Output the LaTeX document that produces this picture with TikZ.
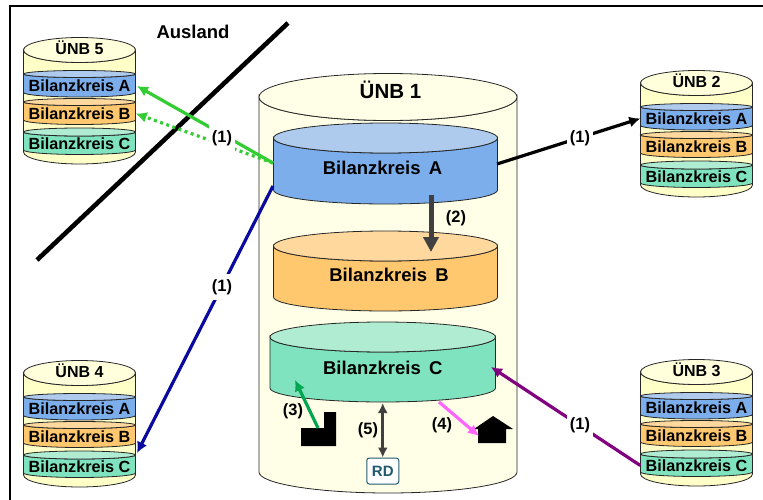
\documentclass[tikz,border=0pt]{standalone}
\usepackage{fontspec}
\setmainfont{Liberation Sans}
\usetikzlibrary{arrows.meta}

\definecolor{bkAside}{HTML}{7CAEEC}
\definecolor{bkAtop}{HTML}{AECBEE}
\definecolor{bkBside}{HTML}{FFC76E}
\definecolor{bkBtop}{HTML}{FFD89E}
\definecolor{bkCside}{HTML}{7FE3BF}
\definecolor{bkCtop}{HTML}{B0ECD2}
\definecolor{unbbig}{HTML}{FFFFE8}
\definecolor{unbsmall}{HTML}{FFFFC8}
\definecolor{unbtop}{HTML}{FFFFDC}
\definecolor{darkarrow}{HTML}{404040}
\definecolor{rdtext}{HTML}{1F5A6E}
\definecolor{greenline}{HTML}{33CC33}
\definecolor{greenthree}{HTML}{00A651}
\definecolor{blueline}{HTML}{0A0A9E}
\definecolor{purpleline}{HTML}{800080}
\definecolor{pinkline}{HTML}{FF66FF}

\tikzset{
  drumline/.style={draw=black!85,line width=0.8pt},
  biglabel/.style={font=\fontsize{18.5}{20}\selectfont\bfseries,inner sep=0pt,minimum height=20pt},
  smalllabel/.style={font=\fontsize{16.2}{18}\selectfont\bfseries,inner sep=0pt,minimum height=18pt,minimum width=112pt},
  numlabel/.style={font=\fontsize{16.4}{18}\selectfont\bfseries,inner sep=1.5pt},
  whitelabel/.style={numlabel,fill=white,inner xsep=3pt,inner ysep=5pt},
  flow/.style={line width=3.2pt,-{Latex[length=11pt,width=11pt]}}
}

% cx, rx, top, bottom, ry top, ry bottom, side colour, top colour
\newcommand{\drum}[8]{
  \fill [#7,drumline] (#1-#2,#3) -- (#1-#2,#4) arc (180:0:#2 and #6) -- (#1+#2,#3) arc (0:180:#2 and #5) -- cycle;
  \draw [fill=#8,drumline] (#1,#3) ellipse (#2 and #5);
}

% shift x, shift y, name, number
\newcommand{\unbstack}[4]{
  \begin{scope}[shift={(#1,#2)}]
  \drum{79.5}{56}{50}{152}{12.5}{12}{unbsmall}{unbtop}
  \drum{79.5}{56}{74}{92.5}{3.5}{4.5}{bkAside}{bkAtop}
  \drum{79.5}{56}{102}{120}{3.5}{4.5}{bkBside}{bkBtop}
  \drum{79.5}{56}{132}{150}{4}{4.5}{bkCside}{bkCtop}
  \node [font=\fontsize{16}{18}\selectfont\bfseries,inner sep=0pt] (#3) at (79.5,48) {ÜNB #4};
  \node [smalllabel] (#3A) at (79.5,85.5) {Bilanzkreis A};
  \node [smalllabel] (#3B) at (79.5,113.5) {Bilanzkreis B};
  \node [smalllabel] (#3C) at (79.5,143.5) {Bilanzkreis C};
  \end{scope}
}

\begin{document}
\begin{tikzpicture}[x=1pt,y=-1pt]
\useasboundingbox (0,0) rectangle (763,500);

\draw [line width=2.6pt] (10,500) -- (10,6) -- (763,6);
\draw [line width=4.6pt] (37,260) -- (288,23);
\node [font=\fontsize{18.5}{20}\selectfont\bfseries,inner sep=0pt] (ausland) at (193,32) {Ausland};

\drum{388}{129}{97}{472}{23.5}{21}{unbbig}{unbbig}
\node [font=\fontsize{20.5}{22}\selectfont\bfseries,inner sep=0pt] (unb1) at (390.5,90) {ÜNB 1};

\drum{385.5}{112}{138}{190}{15}{14}{bkAside}{bkAtop}
\drum{385.5}{112}{246}{297}{15}{14}{bkBside}{bkBtop}
\drum{382.75}{112.75}{337}{388}{15}{14}{bkCside}{bkCtop}
\node [biglabel,minimum width=224pt] (bkA) at (382.5,168) {Bilanzkreis\, A};
\node [biglabel,minimum width=224pt] (bkB) at (389,275) {Bilanzkreis\, B};
\node [biglabel,minimum width=225pt] (bkC) at (382.75,368) {Bilanzkreis\, C};

\unbstack{0}{0}{unbfive}{5}
\unbstack{617}{33}{unbtwo}{2}
\unbstack{617}{322}{unbthree}{3}
\unbstack{0}{323}{unbfour}{4}

\coordinate (greenA) at (273,163);
\coordinate (blueA) at (273,186);
\coordinate (blackA) at (497,164);
\coordinate (tipB) at (431,252);
\coordinate (startB) at (431,195);
\coordinate (tipC) at (491,367);
\coordinate (tipfour) at (137,453);
\coordinate (tipfactory) at (295,380);
\coordinate (startfactory) at (318,428);
\coordinate (startpink) at (439,402);
\coordinate (tiphouse) at (479,436);
\coordinate (rdtop) at (382.75,403);

\draw [flow,color=greenline] (greenA) -- (137,86);
\draw [line width=3.2pt,color=greenline,dash pattern=on 3pt off 3.5pt,-{Latex[length=11pt,width=11pt]}] (greenA) -- (unbfiveB.east);
\draw [flow,color=blueline] (blueA) -- (tipfour);
\draw [flow] (blackA) -- (unbtwoA.west);
\draw [flow,color=purpleline] (unbthreeC.west) -- (tipC);
\draw [line width=5pt,color=darkarrow,-{Triangle[length=15pt,width=15pt]}] (startB) -- (tipB);

\fill (301,428) -- (324,428) -- (324,412) -- (336,412) -- (336,446) -- (301,446) -- cycle;
\fill (493,416) -- (513,429) -- (506,429) -- (506,443) -- (478,443) -- (478,429) -- (474,429) -- cycle;

\draw [flow,color=greenthree] (startfactory) -- (tipfactory);
\draw [flow,color=pinkline] (startpink) -- (tiphouse);

\node [draw=rdtext,line width=1pt,rounded corners=2.5pt,fill=white,text=rdtext,font=\fontsize{15}{17}\selectfont\bfseries,minimum width=32pt,minimum height=26pt,inner sep=0pt] (rd) at (382.75,471) {RD};
\draw [line width=3.4pt,color=darkarrow,{Latex[length=10pt,width=10pt]}-{Latex[length=10pt,width=10pt]}] (rdtop) -- (rd.north);

\node [whitelabel] (numone) at (222,138) {(1)};
\node [whitelabel] (numtwo) at (222,287) {(1)};
\node [whitelabel] (numthree) at (580,138) {(1)};
\node [whitelabel] (numfour) at (580,425) {(1)};
\node [numlabel] (numfive) at (456,218) {(2)};
\node [numlabel] (numsix) at (293,411) {(3)};
\node [numlabel] (numseven) at (442,425) {(4)};
\node [numlabel] (numeight) at (368,430) {(5)};

\end{tikzpicture}
\end{document}
